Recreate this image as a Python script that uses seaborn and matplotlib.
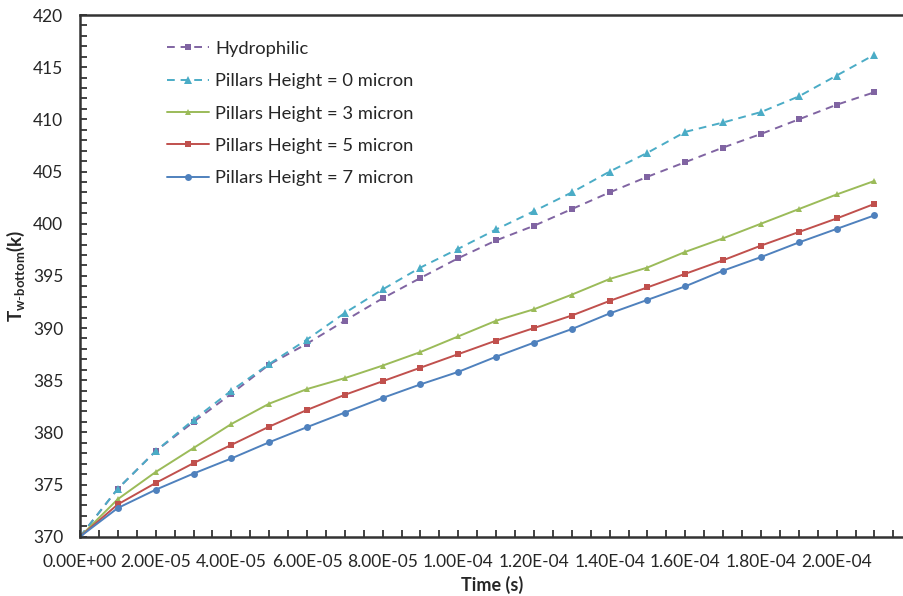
import numpy as np
import pandas as pd
import matplotlib
matplotlib.use("Agg")
import matplotlib.pyplot as plt
import seaborn as sns
from matplotlib.ticker import MultipleLocator, FuncFormatter

# Time steps (s) and bottom-wall temperature (K) for each surface
time_s = [i * 1e-5 for i in range(22)]

hydrophilic = [370.0, 374.6, 378.2, 381.0, 383.7, 386.5, 388.5, 390.7, 392.85, 394.8,
               396.7, 398.4, 399.8, 401.4, 403.0, 404.5, 405.9, 407.3, 408.6, 410.0,
               411.4, 412.6]
pillars_0 = [370.0, 374.6, 378.2, 381.2, 384.0, 386.55, 388.9, 391.45, 393.7, 395.8,
             397.6, 399.45, 401.2, 403.0, 405.0, 406.8, 408.8, 409.7, 410.7, 412.2,
             414.2, 416.2]
pillars_3 = [370.0, 373.6, 376.2, 378.5, 380.8, 382.75, 384.15, 385.2, 386.4, 387.7,
             389.2, 390.7, 391.8, 393.2, 394.7, 395.8, 397.3, 398.6, 400.0, 401.4,
             402.8, 404.1]
pillars_5 = [370.0, 373.1, 375.15, 377.05, 378.8, 380.55, 382.15, 383.6, 384.9, 386.2,
             387.5, 388.8, 390.0, 391.2, 392.6, 393.9, 395.2, 396.5, 397.9, 399.2,
             400.5, 401.9]
pillars_7 = [370.0, 372.75, 374.5, 376.05, 377.5, 379.05, 380.5, 381.9, 383.3, 384.6,
             385.8, 387.25, 388.6, 389.9, 391.4, 392.7, 394.0, 395.5, 396.8, 398.2,
             399.5, 400.8]

series_names = ["Hydrophilic", "Pillars Height = 0 micron", "Pillars Height = 3 micron",
                "Pillars Height = 5 micron", "Pillars Height = 7 micron"]
series_values = [hydrophilic, pillars_0, pillars_3, pillars_5, pillars_7]

styles = {
    "Hydrophilic": dict(color="#8064A2", ls="--", marker="s", ms=5.0),
    "Pillars Height = 0 micron": dict(color="#4BACC6", ls="--", marker="^", ms=5.5),
    "Pillars Height = 3 micron": dict(color="#9BBB59", ls="-", marker="^", ms=5.0),
    "Pillars Height = 5 micron": dict(color="#C0504D", ls="-", marker="s", ms=5.0),
    "Pillars Height = 7 micron": dict(color="#4F81BD", ls="-", marker="o", ms=5.0),
}

df = pd.concat(
    [pd.DataFrame({"time": time_s, "temp": vals, "series": name})
     for name, vals in zip(series_names, series_values)],
    ignore_index=True,
)

sns.set_theme(style="white")
plt.rcParams["font.family"] = ["Lato", "DejaVu Sans"]
plt.rcParams["mathtext.fontset"] = "custom"
plt.rcParams["mathtext.rm"] = "Lato"
plt.rcParams["mathtext.bf"] = "Lato:bold"

fig = plt.figure(figsize=(9.04, 5.96), dpi=100)
ax = fig.add_axes([0.0885, 0.0995, 0.9115, 0.8753])

for name in series_names:
    st = styles[name]
    sub = df[df["series"] == name]
    sns.lineplot(data=sub, x="time", y="temp", ax=ax, color=st["color"],
                 linestyle=st["ls"], marker=st["marker"], markersize=st["ms"],
                 markeredgewidth=0, linewidth=1.4, label=name)
    if st["ls"] == "--":
        ax.lines[-1].set_dashes([4, 3])

ax.set_xlim(0, 2.178e-4)
ax.set_ylim(370, 420)

ax.xaxis.set_major_locator(MultipleLocator(2e-5))
ax.xaxis.set_minor_locator(MultipleLocator(5e-6))
ax.yaxis.set_major_locator(MultipleLocator(5))
ax.yaxis.set_minor_locator(MultipleLocator(1))
ax.xaxis.set_major_formatter(FuncFormatter(lambda v, p: f"{v:.2E}" if v <= 2.0001e-4 else ""))

ax.tick_params(axis="both", which="both", direction="in", color="#222222",
               bottom=True, left=True, top=False, right=False)
ax.tick_params(axis="both", which="major", length=5, width=1.2, labelsize=12.5)
ax.tick_params(axis="x", which="major", pad=12.5)
ax.tick_params(axis="y", which="major", pad=12)
ax.tick_params(axis="both", which="minor", length=5, width=1.2)

for side in ["top", "left", "bottom"]:
    ax.spines[side].set_color("#333333")
    ax.spines[side].set_linewidth(1.8)
ax.spines["right"].set_visible(False)

ax.set_xlabel("Time (s)", fontsize=13, fontweight="bold", labelpad=4)
ax.set_ylabel(r"$\mathbf{T_{w\text{-}bottom}}$" + "(k)", fontsize=13.5,
              fontweight="bold", labelpad=4)

leg = ax.legend(loc="upper left", bbox_to_anchor=(0.085, 0.982), frameon=False,
                fontsize=13.2, handlelength=2.3, handletextpad=0.35,
                labelspacing=0.89)

fig.savefig("out.png", dpi=100)
